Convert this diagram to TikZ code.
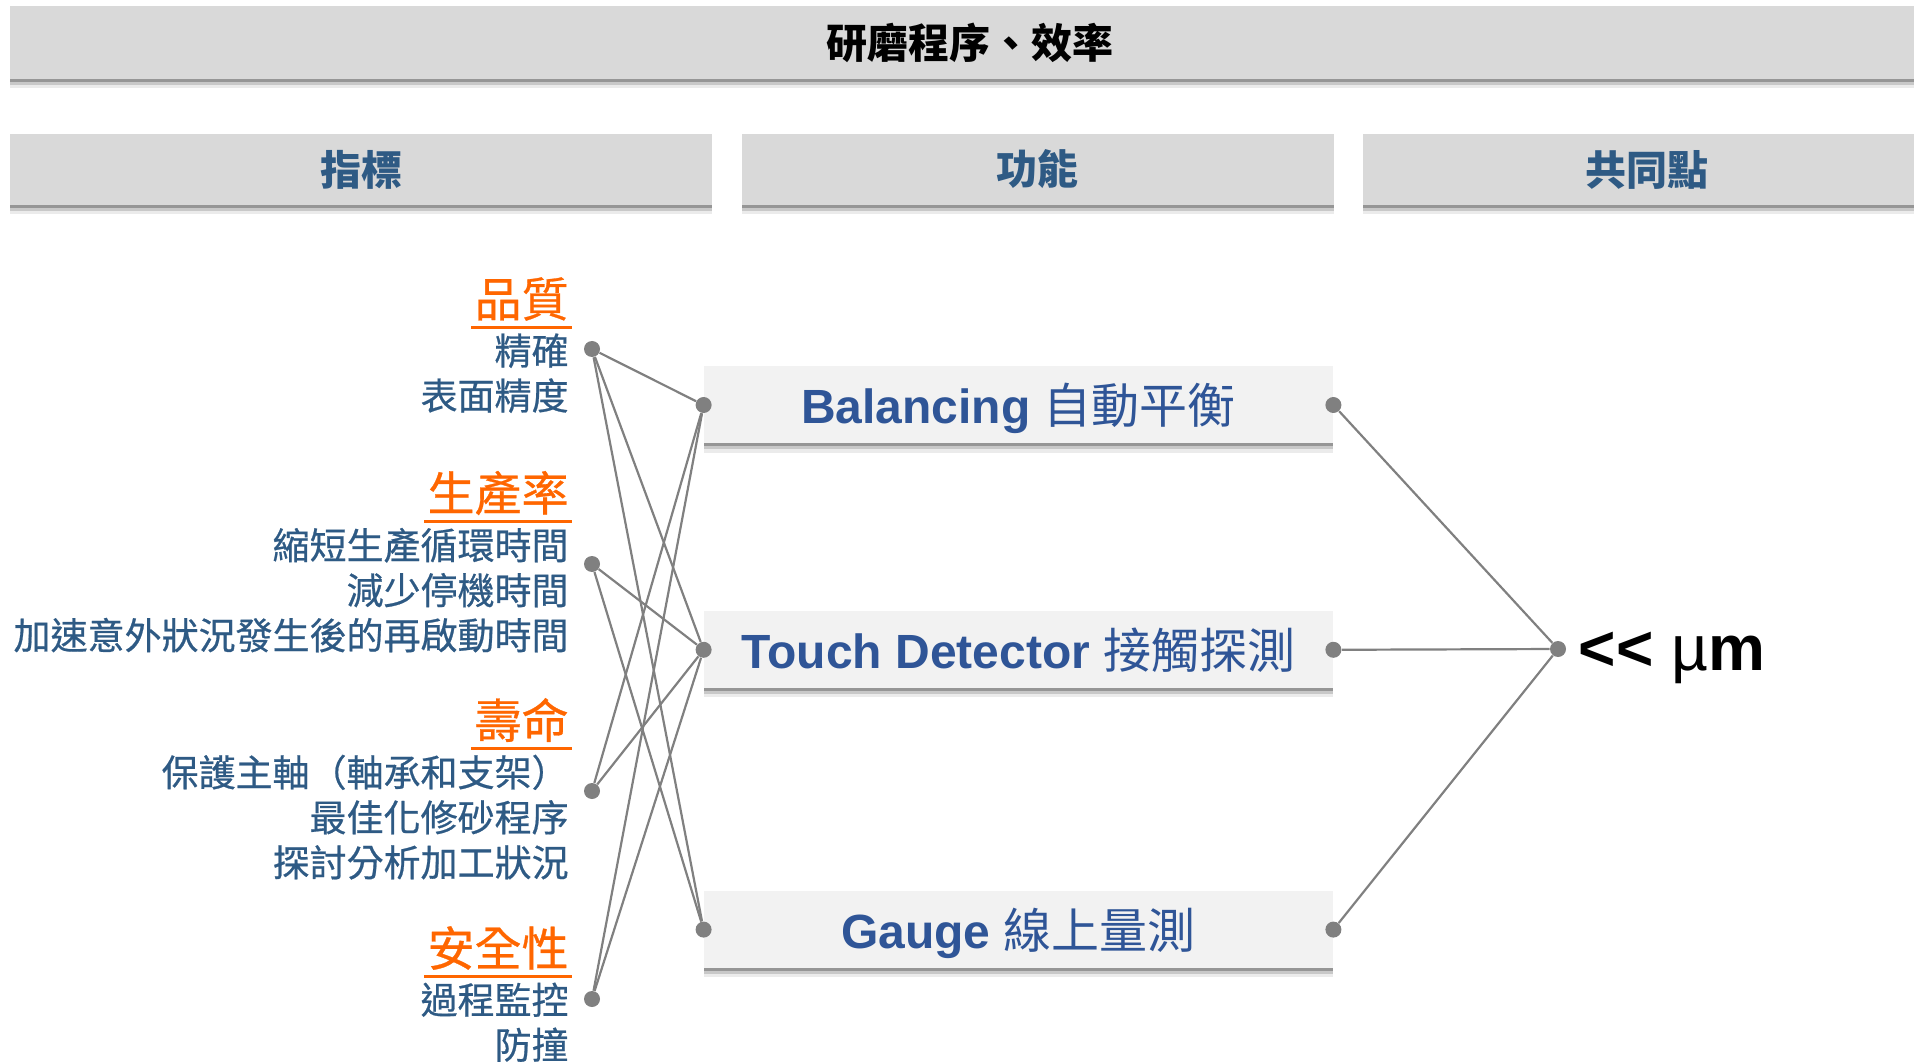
\documentclass[tikz,border=0pt]{standalone}
\usepackage{fontspec}
\setmainfont{Liberation Sans}
\newfontfamily\cjk{Noto Sans CJK TC}
\newfontfamily\cjktext[RawFeature={embolden=0.6}]{Noto Sans CJK TC}
\usepackage{tikz}
\usetikzlibrary{positioning}
\usetikzlibrary{shadows}
\definecolor{kopfgrau}{HTML}{D9D9D9}
\definecolor{boxgrau}{HTML}{F2F2F2}
\definecolor{liniengrau}{HTML}{808080}
\definecolor{textblau}{HTML}{2E5A84}
\definecolor{fktblau}{HTML}{2F5597}
\definecolor{zielorange}{HTML}{FF6600}

\begin{document}
\begin{tikzpicture} [x=0.5pt, y=-0.5pt,
        schatten/.style = {drop shadow={shadow xshift=0pt, shadow yshift=-1.5pt, fill=black, opacity=0.25},
            drop shadow={shadow xshift=0pt, shadow yshift=-3pt, fill=black, opacity=0.15},
            drop shadow={shadow xshift=0pt, shadow yshift=-4.5pt, fill=black, opacity=0.08}},
        kopf/.style = {fill=kopfgrau, inner sep=0pt, minimum height=35.5pt, text=textblau, font=\cjk\bfseries\fontsize{20.5}{24}\selectfont, schatten},
        fkt/.style = {fill=boxgrau, inner sep=0pt, minimum width=314.5pt, minimum height=38.5pt, text height=23pt, text depth=4.4pt, text=fktblau, font=\bfseries\fontsize{24}{28}\selectfont, schatten},
        ziel/.style = {anchor=east, inner xsep=1.5pt, inner ysep=3pt, text=zielorange, font=\cjktext\fontsize{23.5}{28}\selectfont},
        item/.style = {align=right, inner xsep=1.5pt, inner ysep=0pt, text=textblau, font=\cjktext\fontsize{18.5}{22.5}\selectfont},
        strich/.style = {draw=zielorange, line width=1.5pt},
        punkt/.style = {circle, fill=liniengrau, inner sep=0pt, minimum size=8pt},
        kante/.style = {draw=liniengrau, line width=1.1pt}]
        \useasboundingbox (0,0) rectangle (1914,1063);

        %Kopf
        \node[kopf, minimum width=960pt, minimum height=36.5pt, text=black] (titel) at (970,42.5) {研磨程序、效率};
        \node[kopf, minimum width=351pt] (ziele) at (361,169.5) {指標};
        \node[kopf, minimum width=296pt] (funktionen) [right = 14.5pt of ziele] {功能};
        \node[kopf, minimum width=284.5pt] (gemeinsam) [right = 14pt of funktionen] {共同點};

        %Indikatoren
        \node[ziel] (qual) at (572,299) {品質};
        \node[item] (qualText) [below = 3pt of qual.south east, anchor=north east] {精確\\表面精度};
        \node[ziel] (prod) at (572,493) {生產率};
        \node[item] (prodText) [below = 3pt of prod.south east, anchor=north east] {縮短生產循環時間\\減少停機時間\\加速意外狀況發生後的再啟動時間};
        \node[ziel] (leben) at (572,720) {壽命};
        \node[item] (lebenText) [below = 3pt of leben.south east, anchor=north east] {保護主軸（軸承和支架）\\最佳化修砂程序\\探討分析加工狀況};
        \node[ziel] (sicher) at (572,948) {安全性};
        \node[item] (sicherText) [below = 3pt of sicher.south east, anchor=north east] {過程監控\\防撞};
        \draw[strich] (qual.south west) -- (qual.south east);
        \draw[strich] (prod.south west) -- (prod.south east);
        \draw[strich] (leben.south west) -- (leben.south east);
        \draw[strich] (sicher.south west) -- (sicher.south east);

        \node[punkt] (qualP) at (592,349) {};
        \node[punkt] (prodP) at (592,564) {};
        \node[punkt] (lebenP) at (592,791) {};
        \node[punkt] (sicherP) at (592,999) {};

        %Funktionen
        \node[fkt] (bal) at (1018.5,405) {Balancing {\cjk\mdseries 自動平衡}};
        \node[fkt] (touch) [below = 83.5pt of bal] {Touch Detector {\cjk\mdseries 接觸探測}};
        \node[fkt] (gauge) [below = 101pt of touch] {Gauge {\cjk\mdseries 線上量測}};

        \node[punkt] (balL) at (bal.west) {};
        \node[punkt] (balR) at (bal.east) {};
        \node[punkt] (touchL) at (touch.west) {};
        \node[punkt] (touchR) at (touch.east) {};
        \node[punkt] (gaugeL) at (gauge.west) {};
        \node[punkt] (gaugeR) at (gauge.east) {};

        %Gemeinsam
        \node[punkt] (mu) at (1558,649) {};
        \node[inner sep=0pt, text height=16.5pt, text depth=0pt, font=\bfseries\fontsize{32}{36}\selectfont] (muText) [right = 6pt of mu, yshift=-2.5pt] {<\kern0pt< {\mdseries µ}m};

        %Kanten
        \draw[kante] (qualP) -- (balL);
        \draw[kante] (qualP) -- (touchL);
        \draw[kante] (qualP) -- (gaugeL);
        \draw[kante] (prodP) -- (touchL);
        \draw[kante] (prodP) -- (gaugeL);
        \draw[kante] (lebenP) -- (balL);
        \draw[kante] (lebenP) -- (touchL);
        \draw[kante] (sicherP) -- (balL);
        \draw[kante] (sicherP) -- (touchL);
        \draw[kante] (balR) -- (mu);
        \draw[kante] (touchR) -- (mu);
        \draw[kante] (gaugeR) -- (mu);

    \end{tikzpicture}
\end{document}
